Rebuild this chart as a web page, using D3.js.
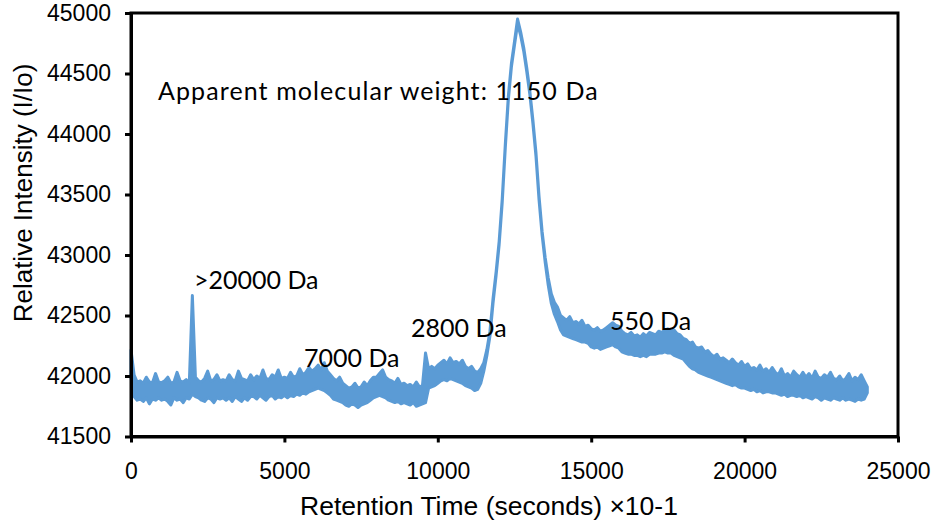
<!DOCTYPE html>
<html>
<head>
<meta charset="utf-8">
<script src="https://cdn.jsdelivr.net/npm/d3@7/dist/d3.min.js"></script>
<style>
  html, body { margin: 0; padding: 0; background: #fff; }
  svg { display: block; }
</style>
</head>
<body>
<svg id="chart" width="935" height="523"></svg>
<script>
// ---------- DATA ----------
const sampleStep = 100;            // retention time spacing of the samples (s x10-1)
const xTicks = [0, 5000, 10000, 15000, 20000, 25000];
const yTicks = [41500, 42000, 42500, 43000, 43500, 44000, 44500, 45000];

// upper edge of the noisy trace
const upper = [
  42215, 42010, 41950, 41960, 41940, 41990, 41950, 41945, 42020, 41950,
  41945, 41960, 41990, 41940, 41950, 42030, 41960, 41950, 41970, 41940,
  42665, 41990, 41960, 41950, 41980, 42040, 41960, 41970, 42010, 41960,
  41970, 41960, 42010, 41970, 41960, 42040, 41980, 41970, 41960, 42010,
  41970, 42000, 41980, 42050, 41980, 41970, 42010, 41990, 42050, 41980,
  41990, 41980, 42030, 41990, 42000, 42060, 42010, 42030, 42070, 42040,
  42060, 42090, 42050, 42110, 42040, 42010, 41980, 41960, 41990, 41940,
  41920, 41900, 41910, 41940, 41900, 41910, 41950, 41920, 41960, 41990,
  41990, 42020, 42050, 41990, 41970, 41960, 41940, 41980, 41930, 41940,
  41920, 41930, 41910, 41950, 41910, 41920, 42190, 42060, 42080, 42060,
  42090, 42110, 42130, 42100, 42150, 42110, 42120, 42100, 42130, 42080,
  42060, 42080, 42040, 42030, 42060, 42110, 42220, 42370, 42640, 42860,
  43115, 43465, 43915, 44315, 44585, 44765, 44950, 44845, 44715, 44545,
  44355, 44115, 43845, 43485, 43195, 42980, 42810, 42680, 42610, 42570,
  42500, 42480, 42460, 42490, 42440, 42450, 42430, 42460, 42410, 42420,
  42390, 42380, 42400, 42370, 42380, 42400, 42420, 42440, 42420, 42410,
  42370, 42350, 42340, 42360, 42330, 42340, 42320, 42350, 42330, 42360,
  42350, 42340, 42370, 42360, 42380, 42390, 42370, 42380, 42350, 42340,
  42310, 42300, 42270, 42280, 42240, 42230, 42240, 42200, 42210, 42180,
  42160, 42180, 42140, 42150, 42130, 42110, 42140, 42110, 42090, 42120,
  42080, 42100, 42060, 42070, 42050, 42090, 42040, 42060, 42030, 42070,
  42030, 42010, 42060, 42000, 42020, 41990, 42040, 42010, 41990, 42030,
  41990, 42020, 41980, 42040, 41990, 41980, 42010, 41990, 42030, 41980,
  41970, 42000, 41960, 41980, 42020, 41960, 41990, 41970, 42010, 41960,
  41910
];

// lower edge of the noisy trace
const lower = [
  41990, 41830, 41800, 41810, 41790, 41820, 41770, 41810, 41800, 41820,
  41800, 41810, 41790, 41760, 41820, 41800, 41810, 41780, 41820, 41810,
  41850, 41830, 41820, 41800, 41790, 41820, 41810, 41780, 41820, 41810,
  41820, 41800, 41820, 41790, 41830, 41810, 41790, 41820, 41800, 41830,
  41830, 41810, 41840, 41820, 41800, 41830, 41840, 41810, 41830, 41820,
  41840, 41820, 41840, 41830, 41850, 41840, 41860, 41850, 41870, 41880,
  41890, 41900, 41890, 41880, 41860, 41840, 41810, 41800, 41790, 41780,
  41760, 41750, 41770, 41760, 41740, 41760, 41770, 41780, 41800, 41820,
  41830, 41840, 41830, 41820, 41800, 41790, 41780, 41790, 41770, 41780,
  41770, 41760, 41780, 41750, 41760, 41770, 41780, 41900, 41910, 41920,
  41940, 41960, 41970, 41960, 41980, 41970, 41960, 41950, 41940, 41920,
  41910, 41900, 41880, 41890, 41940, 42040, 42170, 42330, 42600, 42830,
  43085, 43435, 43885, 44285, 44555, 44735, 44910, 44815, 44685, 44515,
  44325, 44085, 43815, 43455, 43165, 42940, 42750, 42600, 42510, 42450,
  42380, 42340, 42330, 42320, 42310, 42300, 42290, 42280, 42280, 42270,
  42240, 42230, 42240, 42220, 42230, 42240, 42250, 42260, 42240, 42230,
  42200, 42190, 42180, 42180, 42170, 42170, 42160, 42170, 42160, 42180,
  42180, 42180, 42190, 42190, 42200, 42190, 42190, 42170, 42160, 42150,
  42140, 42110, 42080, 42060, 42050, 42030, 42020, 42010, 42000, 41990,
  41980, 41970, 41960, 41950, 41940, 41930, 41920, 41930, 41910, 41900,
  41900, 41890, 41880, 41890, 41870, 41880, 41860, 41870, 41870, 41860,
  41860, 41850, 41840, 41850, 41830, 41840, 41840, 41830, 41840, 41820,
  41830, 41820, 41810, 41830, 41820, 41800, 41820, 41810, 41800, 41820,
  41810, 41800, 41820, 41800, 41810, 41800, 41790, 41810, 41800, 41810,
  41860
];

const annotations = [
  { text: "Apparent molecular weight: 1150 Da", t: 880,   v: 44280, spacing: 1.1 },
  { text: ">20000 Da",                          t: 2054,  v: 42716, spacing: 0 },
  { text: "7000 Da",                            t: 5640,  v: 42071, spacing: 0 },
  { text: "2800 Da",                            t: 9128,  v: 42319, spacing: 0 },
  { text: "550 Da",                             t: 15615, v: 42377, spacing: 0 }
];

const xTitle = "Retention Time (seconds) \u00D710-1";
const yTitle = "Relative Intensity (I/Io)";

// ---------- CHART ----------
const svg = d3.select("#chart");
const x = d3.scaleLinear().domain([0, 25000]).range([131, 898]);
const y = d3.scaleLinear().domain([41500, 45000]).range([436.5, 13]);

const pts = upper.map((u, i) => ({ t: i * sampleStep, hi: u, lo: lower[i] }));

const area = d3.area()
  .x(d => x(d.t))
  .y0(d => y(d.lo))
  .y1(d => y(d.hi));

svg.append("path")
  .datum(pts)
  .attr("d", area)
  .attr("fill", "#5B9BD5")
  .attr("stroke", "#5B9BD5")
  .attr("stroke-width", 3)
  .attr("stroke-linejoin", "round");

// frame
svg.append("rect")
  .attr("x", x(0)).attr("y", y(45000))
  .attr("width", x(25000) - x(0)).attr("height", y(41500) - y(45000))
  .attr("fill", "none").attr("stroke", "#000").attr("stroke-width", 3);

const tickFont = "'Liberation Sans', Arial, sans-serif";

const yAxis = svg.append("g")
  .attr("transform", `translate(${x(0)},0)`)
  .call(d3.axisLeft(y).tickValues(yTicks).tickFormat(d3.format("d"))
        .tickSize(6).tickSizeOuter(0).tickPadding(14));
const xAxis = svg.append("g")
  .attr("transform", `translate(0,${y(41500)})`)
  .call(d3.axisBottom(x).tickValues(xTicks).tickFormat(d3.format("d"))
        .tickSize(6).tickSizeOuter(0).tickPadding(20));

[xAxis, yAxis].forEach(g => {
  g.select(".domain").attr("stroke", "#000").attr("stroke-width", 3);
  g.selectAll(".tick line").attr("stroke", "#000").attr("stroke-width", 3);
  g.selectAll(".tick text")
    .attr("fill", "#000")
    .style("font-family", tickFont)
    .style("font-size", "23px");
});

// axis titles
svg.append("text")
  .attr("x", 489).attr("y", 515)
  .attr("text-anchor", "middle")
  .style("font-family", tickFont).style("font-size", "26.5px")
  .attr("fill", "#000")
  .text(xTitle);

svg.append("text")
  .attr("transform", "translate(32,193) rotate(-90)")
  .attr("text-anchor", "middle")
  .style("font-family", tickFont).style("font-size", "26px")
  .attr("fill", "#000")
  .text(yTitle);

// annotations
svg.selectAll("text.ann")
  .data(annotations)
  .enter().append("text")
  .attr("class", "ann")
  .attr("x", d => x(d.t))
  .attr("y", d => y(d.v))
  .style("font-family", "Lato, 'Open Sans', sans-serif")
  .style("font-size", "25px")
  .style("letter-spacing", d => d.spacing + "px")
  .attr("fill", "#000")
  .text(d => d.text);
</script>
</body>
</html>
